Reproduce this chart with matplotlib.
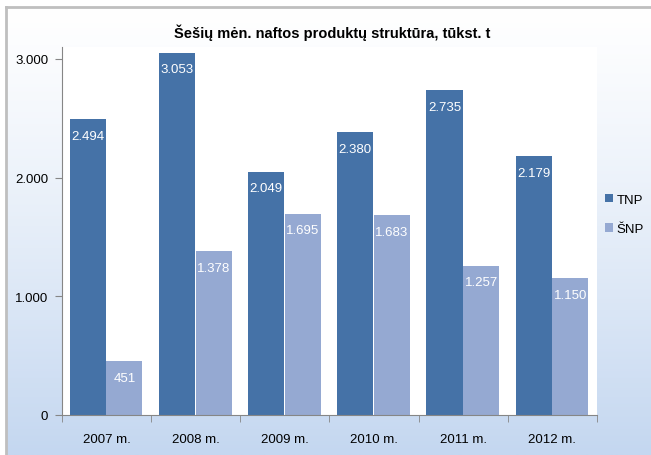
import numpy as np
import matplotlib.pyplot as plt
from matplotlib.ticker import FuncFormatter

plt.rcParams['font.family'] = ['Liberation Sans Narrow', 'Liberation Sans', 'DejaVu Sans']

years = ['2007 m.', '2008 m.', '2009 m.', '2010 m.', '2011 m.', '2012 m.']
tnp = [2494, 3053, 2049, 2380, 2735, 2179]
snp = [451, 1378, 1695, 1683, 1257, 1150]
series_names = ['TNP', 'ŠNP']
colors = ['#4572a7', '#95a9d2']

def fmt(v):
    return f'{v:,.0f}'.replace(',', '.')

fig = plt.figure(figsize=(6.51, 4.56), dpi=100)
fig.patch.set_facecolor('white')

# gradient background of the chart frame
bg = fig.add_axes([6/651, 0, 1 - 6/651, 1 - 8/456])
grad = np.linspace(0, 1, 256)[:, None]
top = np.array([1.0, 1.0, 1.0])
bot = np.array([196, 215, 240]) / 255
img = top + (bot - top) * grad[..., None] ** 1.2
bg.imshow(np.repeat(img, 2, axis=1), aspect='auto', extent=[0, 1, 0, 1])
bg.set_xticks([]); bg.set_yticks([])
for s in ['right', 'bottom']:
    bg.spines[s].set_visible(False)
for s in ['left', 'top']:
    bg.spines[s].set_color('#bfbfbf')
    bg.spines[s].set_linewidth(2)

ax = fig.add_axes([62/651, 1 - 416/456, 535/651, 368/456])
x = np.arange(len(years))
w = 0.405
b1 = ax.bar(x - 0.21, tnp, w, color=colors[0], label=series_names[0])
b2 = ax.bar(x + 0.20, snp, w, color=colors[1], label=series_names[1])
for bars, vals in [(b1, tnp), (b2, snp)]:
    for r, v in zip(bars, vals):
        ax.text(r.get_x() + r.get_width() / 2, v - 90, fmt(v), ha='center', va='top',
                color='white', fontsize=9.5)

ax.set_xlim(-0.5, 5.5)
ax.set_ylim(0, 3100)
ax.set_yticks([0, 1000, 2000, 3000])
ax.yaxis.set_major_formatter(FuncFormatter(lambda v, p: fmt(v)))
ax.set_xticks(x)
ax.set_xticklabels(years, fontsize=9.5)
ax.set_xticks(np.arange(-0.5, 6, 1), minor=True)
ax.tick_params(axis='x', which='major', length=0, pad=13)
ax.tick_params(axis='x', which='minor', length=5, color='#868686')
ax.tick_params(axis='y', length=5, color='#868686', labelsize=9.5, pad=5)
for s in ['top', 'right']:
    ax.spines[s].set_visible(False)
for s in ['left', 'bottom']:
    ax.spines[s].set_color('#868686')

ax.legend(loc='center left', bbox_to_anchor=(1.015, 0.545), frameon=False,
          handlelength=0.6, handleheight=0.6, handletextpad=0.3, borderpad=0,
          borderaxespad=0, labelspacing=1.3, fontsize=9.5)

fig.text(0.51, 1 - 33/456, 'Šešių mėn. naftos produktų struktūra, tūkst. t',
         ha='center', va='center', fontsize=10.5, fontweight='bold')

fig.savefig('out.png', dpi=100)
